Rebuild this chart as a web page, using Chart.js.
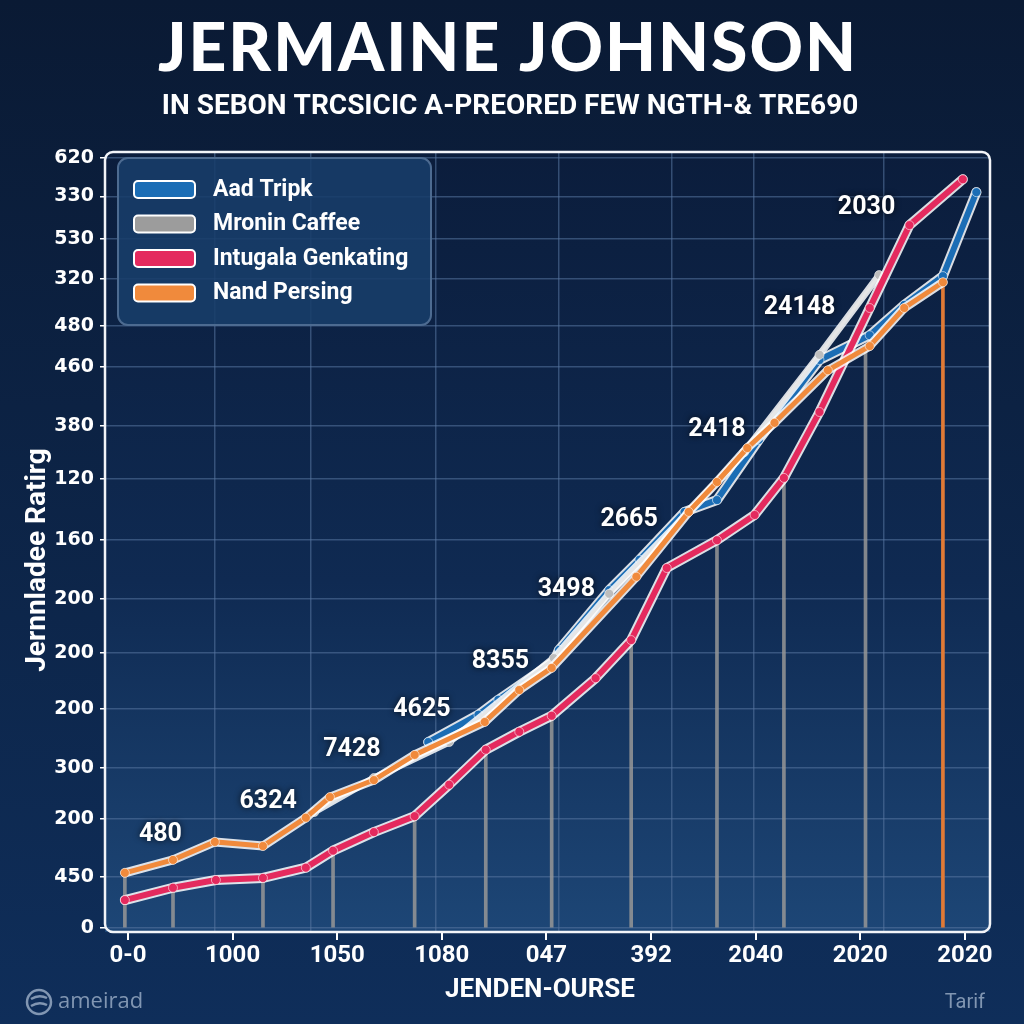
<!DOCTYPE html>
<html>
<head>
<meta charset="utf-8">
<script src="https://cdn.jsdelivr.net/npm/chart.js@4/dist/chart.umd.min.js"></script>
<style>
  html, body { margin: 0; padding: 0; background: #0b1c3a; }
  #wrap { width: 1024px; height: 1024px; }
</style>
</head>
<body>
<div id="wrap"><canvas id="ratingChart" width="1024" height="1024"></canvas></div>
<script>
// tick labels (as printed in the picture)
const xLabels = ["0-0", "1000", "1050", "1080", "047", "392", "2040", "2020", "2020"];
const yLabels = ["0", "450", "200", "300", "200", "200", "200", "160", "120", "380", "460", "480", "320", "530", "330", "620"];
// where each y label sits on the (uneven) value axis
const yTicks = [0, 0.99, 2.12, 3.11, 4.25, 5.34, 6.39, 7.53, 8.72, 9.75, 10.89, 11.69, 12.60, 13.38, 14.21, 14.95];

// series, x in tick-slot units
const pinkX = [-0.03, 0.43, 0.84, 1.29, 1.70, 1.96, 2.35, 2.74, 3.07, 3.42, 3.74, 4.05, 4.47, 4.81, 5.15, 5.63, 5.99, 6.27, 6.61, 7.09, 7.47, 7.98];
const pinkY = [0.54, 0.78, 0.93, 0.97, 1.17, 1.50, 1.86, 2.17, 2.78, 3.46, 3.81, 4.12, 4.85, 5.59, 6.99, 7.53, 8.02, 8.74, 10.02, 12.04, 13.65, 14.54];

const orangeX = [-0.03, 0.43, 0.83, 1.29, 1.70, 1.93, 2.35, 2.74, 3.41, 3.74, 4.05, 4.86, 5.36, 5.63, 5.92, 6.18, 6.69, 7.09, 7.42, 7.79];
const orangeY = [1.07, 1.32, 1.67, 1.59, 2.14, 2.54, 2.87, 3.36, 4.00, 4.62, 5.05, 6.82, 8.08, 8.66, 9.32, 9.81, 10.83, 11.30, 12.04, 12.54];

const grayX = [1.78, 2.35, 3.07, 4.07, 4.60, 5.36, 5.89, 6.61, 7.18];
const grayY = [2.25, 2.91, 3.61, 5.24, 6.49, 8.08, 9.24, 11.13, 12.68];

const blueX = [2.87, 3.35, 3.54, 4.07, 4.12, 4.60, 4.89, 5.32, 5.63, 6.03, 6.61, 7.09, 7.42, 7.79, 8.11];
const blueY = [3.61, 4.14, 4.43, 5.17, 5.40, 6.56, 7.15, 8.08, 8.31, 9.48, 11.03, 11.51, 12.10, 12.66, 14.29];

// drop lines down to the axis
const dropX = [-0.03, 0.43, 1.29, 1.96, 2.74, 3.42, 4.05, 4.81, 5.63, 6.27, 7.05, 7.79];
const dropY = [1.07, 0.78, 0.97, 1.50, 2.17, 3.46, 4.12, 5.59, 7.53, 8.74, 11.30, 12.54];

// value callouts
const noteText = ["480", "6324", "7428", "4625", "8355", "3498", "2665", "2418", "24148", "2030"];
const noteX = [0.31, 1.34, 2.14, 2.81, 3.56, 4.19, 4.79, 5.63, 6.42, 7.06];
const noteY = [1.81, 2.45, 3.46, 4.23, 5.17, 6.56, 7.92, 9.67, 12.04, 13.98];

const seriesNames = ["Aad Tripk", "Mronin Caffee", "Intugala Genkating", "Nand Persing"];
const seriesColors = ["#1b6db5", "#9c9c9c", "#e42a5e", "#f08a3c"];

const pts = (xs, ys) => xs.map((x, i) => ({ x: x, y: ys[i] }));

function lineSet(i, xs, ys, width, lineColor, pointColor) {
  return {
    type: "line",
    label: seriesNames[i],
    data: pts(xs, ys),
    borderColor: lineColor || seriesColors[i],
    backgroundColor: seriesColors[i],
    borderWidth: width,
    pointRadius: 4.5,
    pointBackgroundColor: pointColor || seriesColors[i],
    pointBorderColor: "rgba(255,255,255,0.55)",
    pointBorderWidth: 1,
    tension: 0,
    order: 4 - i,
    outline: true
  };
}

const bgPlugin = {
  id: "bg",
  beforeDraw(chart) {
    const { ctx, width, height, chartArea: a } = chart;
    ctx.save();
    let g = ctx.createLinearGradient(0, 0, 0, height);
    g.addColorStop(0, "#0a1a34");
    g.addColorStop(1, "#0f2e5a");
    ctx.fillStyle = g;
    ctx.fillRect(0, 0, width, height);
    g = ctx.createLinearGradient(0, a.top, 0, a.bottom);
    g.addColorStop(0, "#0b1d3c");
    g.addColorStop(0.55, "#0f2a52");
    g.addColorStop(1, "#1d4676");
    ctx.fillStyle = g;
    ctx.fillRect(a.left, a.top, a.right - a.left, a.bottom - a.top);
    ctx.restore();
  },
  beforeDatasetsDraw(chart) {
    // white frame round the plot
    const { ctx, chartArea: a } = chart;
    ctx.save();
    ctx.strokeStyle = "#f2f4f8";
    ctx.lineWidth = 2.5;
    ctx.beginPath();
    ctx.roundRect(a.left, a.top, a.right - a.left, a.bottom - a.top, 8);
    ctx.stroke();
    ctx.restore();
  },
  beforeDatasetDraw(chart, args) {
    const ds = chart.data.datasets[args.index];
    if (!ds.outline) return;
    const { ctx } = chart;
    const p = args.meta.data;
    ctx.save();
    ctx.strokeStyle = "rgba(255,255,255,0.85)";
    ctx.lineWidth = ds.borderWidth + 4;
    ctx.lineJoin = "round";
    ctx.lineCap = "round";
    ctx.beginPath();
    p.forEach((pt, i) => (i ? ctx.lineTo(pt.x, pt.y) : ctx.moveTo(pt.x, pt.y)));
    ctx.stroke();
    ctx.restore();
  }
};

const overlayPlugin = {
  id: "overlay",
  afterDraw(chart) {
    const { ctx, scales } = chart;
    ctx.save();

    // titles
    ctx.fillStyle = "#ffffff";
    ctx.textAlign = "center";
    ctx.textBaseline = "middle";
    ctx.font = "900 66px Lato";
    ctx.letterSpacing = "2px";
    ctx.fillText("JERMAINE JOHNSON", 508, 50);
    ctx.letterSpacing = "0px";
    ctx.font = "bold 28px Roboto";
    ctx.fillText("IN SEBON TRCSICIC A-PREORED FEW NGTH-& TRE690", 510, 107);

    // axis titles
    ctx.font = "bold 26px Roboto";
    ctx.fillText("JENDEN-OURSE", 540, 990);
    ctx.save();
    ctx.translate(38, 560);
    ctx.rotate(-Math.PI / 2);
    ctx.font = "bold 28px Roboto";
    ctx.fillText("Jernnladee Ratirg", 0, 0);
    ctx.restore();

    // footer
    ctx.fillStyle = "#8196b2";
    ctx.strokeStyle = "#8196b2";
    ctx.font = "22px 'Open Sans'";
    ctx.textAlign = "left";
    ctx.fillText("ameirad", 58, 1002);
    ctx.lineWidth = 2.5;
    ctx.beginPath();
    ctx.arc(39, 1002, 12, 0, Math.PI * 2);
    ctx.stroke();
    ctx.beginPath();
    ctx.moveTo(31, 999); ctx.quadraticCurveTo(39, 994, 47, 998);
    ctx.moveTo(31, 1006); ctx.quadraticCurveTo(39, 1001, 47, 1005);
    ctx.stroke();
    ctx.textAlign = "right";
    ctx.font = "20px Roboto";
    ctx.fillText("Tarif", 985, 1003);

    // callouts
    ctx.textAlign = "center";
    ctx.fillStyle = "#ffffff";
    ctx.font = "bold 25px Roboto";
    ctx.shadowColor = "rgba(0,0,0,0.75)";
    ctx.shadowBlur = 6;
    noteText.forEach((t, i) => {
      ctx.fillText(t, scales.x.getPixelForValue(noteX[i]), scales.y.getPixelForValue(noteY[i]));
    });
    ctx.shadowBlur = 0;

    // legend box
    ctx.fillStyle = "rgba(24,62,106,0.88)";
    ctx.strokeStyle = "#4d6b91";
    ctx.lineWidth = 2;
    ctx.beginPath();
    ctx.roundRect(118, 158, 313, 167, 10);
    ctx.fill();
    ctx.stroke();
    ctx.font = "bold 23px Roboto";
    ctx.textAlign = "left";
    seriesNames.forEach((name, i) => {
      const y = 189 + i * 34.5;
      ctx.fillStyle = seriesColors[i];
      ctx.strokeStyle = "#ffffff";
      ctx.lineWidth = 2;
      ctx.beginPath();
      ctx.roundRect(134, y - 8, 61, 17, 4);
      ctx.fill();
      ctx.stroke();
      ctx.fillStyle = "#ffffff";
      ctx.fillText(name, 213, y + 1);
    });
    ctx.restore();
  }
};

const ctx = document.getElementById("ratingChart").getContext("2d");

new Chart(ctx, {
  data: {
    datasets: [
      lineSet(0, blueX, blueY, 6),
      lineSet(1, grayX, grayY, 3, "#e6e6e6", "#bdbdbd"),
      lineSet(2, pinkX, pinkY, 6),
      lineSet(3, orangeX, orangeY, 5),
      {
        type: "bar",
        label: "drop",
        data: pts(dropX, dropY),
        backgroundColor: dropX.map((_, i) => (i === dropX.length - 1 ? "#e07a36" : "rgba(150,150,150,0.85)")),
        barThickness: 3,
        order: 10
      }
    ]
  },
  options: {
    responsive: false,
    animation: false,
    layout: { padding: { top: 152, right: 34, left: 0, bottom: 0 } },
    plugins: {
      legend: { display: false },
      tooltip: { enabled: false }
    },
    scales: {
      x: {
        type: "linear",
        offset: false,
        min: -0.22,
        max: 8.24,
        afterBuildTicks: (s) => { s.ticks = xLabels.map((_, i) => ({ value: i })); },
        afterFit: (s) => { s.height = 92; },
        ticks: {
          color: "#ffffff",
          font: { family: "Roboto", weight: "bold", size: 24 },
          padding: 2,
          maxRotation: 0,
          autoSkip: false,
          callback: (v) => xLabels[v]
        },
        grid: { offset: false, drawOnChartArea: false, color: "#ffffff", tickColor: "#ffffff", tickLength: 8, lineWidth: 2 },
        border: { display: false }
      },
      gx: {
        // background vertical grid, independent of the labelled ticks
        type: "linear",
        position: "top",
        offset: false,
        min: 0,
        max: 100,
        afterBuildTicks: (s) => {
          s.ticks = [12.4, 23.2, 37.4, 51.3, 64.0, 73.3, 88.0].map((v) => ({ value: v }));
        },
        afterFit: (s) => { s.height = 0; },
        ticks: { display: false },
        grid: { offset: false, color: "rgba(88,118,160,0.55)", lineWidth: 1.5, drawTicks: false },
        border: { display: false }
      },
      y: {
        type: "linear",
        min: -0.08,
        max: 15.07,
        afterBuildTicks: (s) => { s.ticks = yTicks.map((v) => ({ value: v })); },
        afterFit: (s) => { s.width = 105; },
        ticks: {
          color: "#ffffff",
          font: { family: "DejaVu Sans", weight: "bold", size: 19 },
          padding: 6,
          autoSkip: false,
          callback: (v) => yLabels[yTicks.indexOf(v)]
        },
        grid: { color: "rgba(88,118,160,0.55)", lineWidth: 1.5, tickColor: "#ffffff", tickLength: 5 },
        border: { display: false }
      }
    }
  },
  plugins: [bgPlugin, overlayPlugin]
});
</script>
</body>
</html>
